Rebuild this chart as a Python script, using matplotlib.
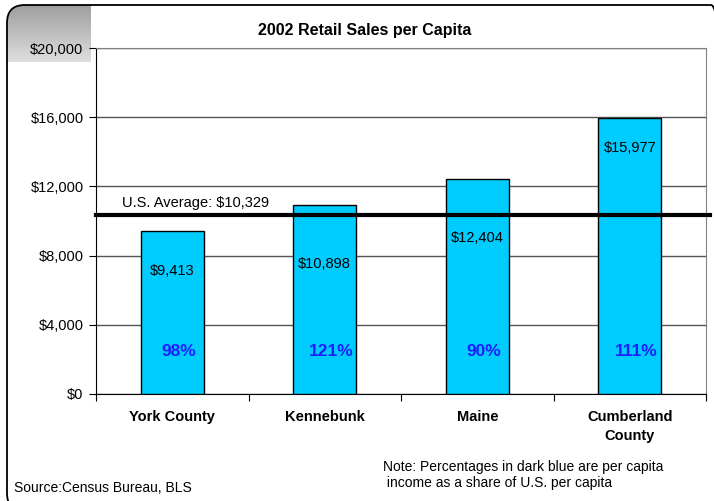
import matplotlib.pyplot as plt
import numpy as np
from matplotlib.patches import FancyBboxPatch
from matplotlib.transforms import blended_transform_factory

plt.rcParams['font.family'] = ['Liberation Sans', 'DejaVu Sans']

# data
places = ["York County", "Kennebunk", "Maine", "Cumberland\nCounty"]
sales = [9413, 10898, 12404, 15977]
sales_labels = ["$9,413", "$10,898", "$12,404", "$15,977"]
income_share = ["98%", "121%", "90%", "111%"]
us_average = 10329
yticks = [0, 4000, 8000, 12000, 16000, 20000]

# where the value labels sit inside each bar (drop below the top, in dollars)
label_drop = [2330, 3400, 3400, 1750]

fig = plt.figure(figsize=(7.14, 5.01), dpi=100)

# rounded outer frame (right and bottom edges fall just outside the image)
frame = FancyBboxPatch((7 / 714, -10 / 501), 722 / 714, 506 / 501,
                       boxstyle="round,pad=0,rounding_size=0.025",
                       mutation_aspect=714 / 501,
                       transform=fig.transFigure, facecolor="none",
                       edgecolor="black", linewidth=1.3, zorder=5)
fig.patches.append(frame)

# grey gradient corner behind the top tick label
gax = fig.add_axes([0, 1 - 62 / 501, 91 / 714, 62 / 501])
grad = np.linspace(0.6, 0.87, 50).reshape(-1, 1)
im = gax.imshow(grad, cmap="gray", vmin=0, vmax=1, aspect="auto",
                extent=[0, 1, 0, 1])
im.set_clip_path(frame)
gax.set_axis_off()

ax = fig.add_axes([96 / 714, 1 - 394 / 501, 610 / 714, 346 / 501])
ax.set_zorder(2)
ax.patch.set_alpha(0)

x = np.arange(len(places))
ax.bar(x, sales, width=0.41, color="#00CCFF", edgecolor="black",
       linewidth=1, zorder=3)

ax.set_xlim(-0.5, len(places) - 0.5)
ax.set_ylim(0, 20000)
ax.set_yticks(yticks)
ax.set_yticklabels(["${:,}".format(v) for v in yticks], fontsize=10.5)
ax.yaxis.grid(True, color="#555555", linewidth=1, zorder=0)
ax.set_axisbelow(True)

ax.set_xticks(np.arange(-0.5, len(places)))
ax.set_xticklabels([])
ax.tick_params(axis="x", length=5, direction="out")
ax.tick_params(axis="y", length=5, direction="out", pad=4)
for i, name in enumerate(places):
    ax.text(i, -900, name, ha="center", va="top", fontsize=10.5,
            fontweight="bold", linespacing=1.5)

ax.spines["top"].set_color("#808080")
ax.spines["right"].set_color("#808080")

for i in range(len(places)):
    ax.text(i, sales[i] - label_drop[i], sales_labels[i], ha="center",
            va="center", fontsize=10.5, zorder=4)
    ax.text(i + 0.04, 2450, income_share[i], ha="center", va="center",
            fontsize=12.5, fontweight="bold", color="#1E1EFF", zorder=4)

# U.S. average line runs just past the plot frame
tr = blended_transform_factory(ax.transAxes, ax.transData)
ax.plot([0, 1.007], [us_average, us_average], color="black", linewidth=3,
        transform=tr, clip_on=False, zorder=4)
ax.text(-0.33, us_average + 300, "U.S. Average: $10,329", ha="left",
        va="bottom", fontsize=10.5)

fig.text(365 / 714, 1 - 31 / 501, "2002 Retail Sales per Capita",
         ha="center", va="center", fontsize=11.5, fontweight="bold")
fig.text(383 / 714, 1 - 475 / 501,
         "Note: Percentages in dark blue are per capita\n income as a share of U.S. per capita",
         ha="left", va="center", fontsize=10, linespacing=1.25)
fig.text(14 / 714, 1 - 488 / 501, "Source:Census Bureau, BLS",
         ha="left", va="center", fontsize=10)

fig.savefig("out.png", dpi=100)
